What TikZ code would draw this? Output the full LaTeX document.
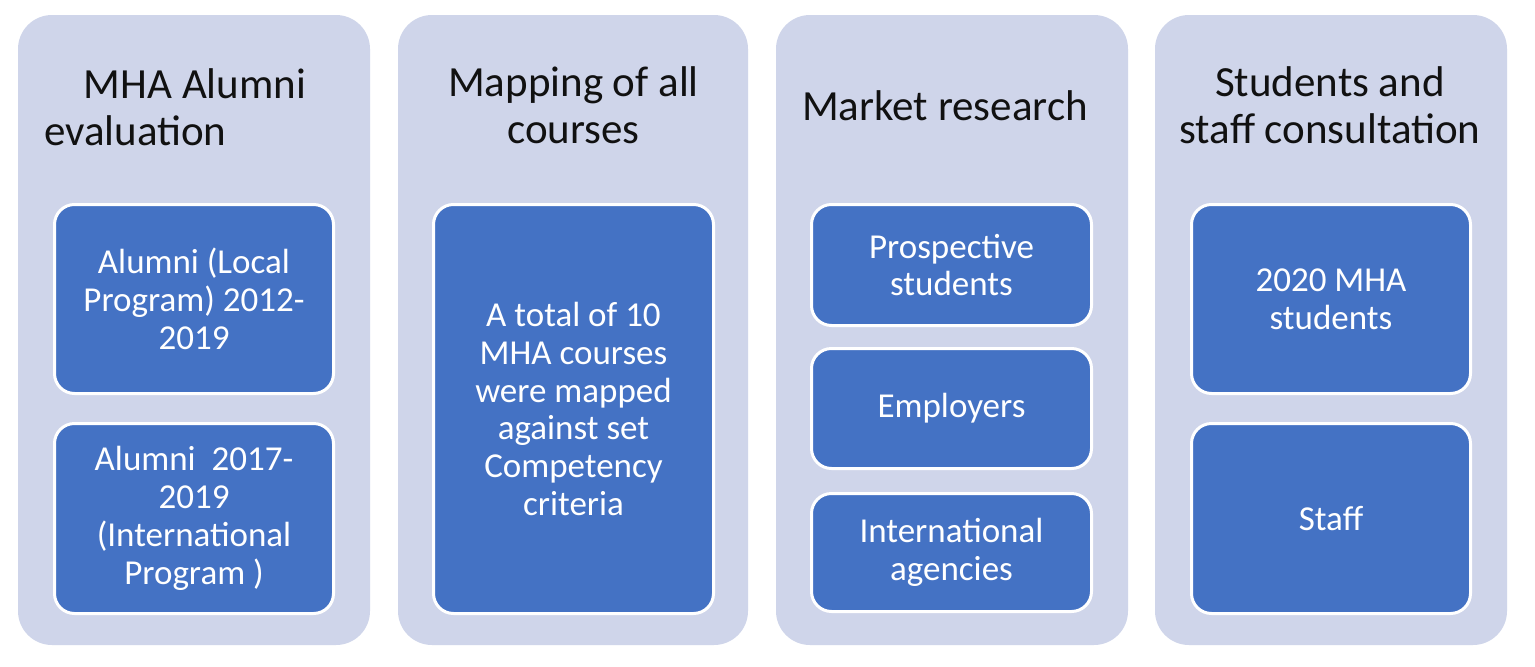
\documentclass[tikz,border=0pt]{standalone}
\usepackage{fontspec}
\setmainfont{Carlito}
\definecolor{lav}{HTML}{CFD5EA}
\definecolor{blu}{HTML}{4472C4}
\definecolor{ink}{HTML}{111111}
\tikzset{
  outerbox/.style={fill=lav, draw=none, rounded corners=34pt, inner sep=0pt},
  innerbox/.style={fill=blu, draw=white, line width=3pt, rounded corners=20pt, inner sep=0pt,
    text=white, font=\fontsize{35}{37.8}\selectfont, align=center},
  ttl/.style={font=\fontsize{43}{46.5}\selectfont, align=center, text=ink, inner sep=0pt, anchor=base}
}
\begin{document}
\begin{tikzpicture}[x=1pt,y=-1pt]
\useasboundingbox[fill=white] (0,0) rectangle (1535,667);
% outer columns
\node[outerbox, minimum width=352pt, minimum height=630pt] (c1) at (194,330) {};
\node[outerbox, minimum width=350pt, minimum height=630pt] (c2) at (573,330) {};
\node[outerbox, minimum width=352pt, minimum height=630pt] (c3) at (952,330) {};
\node[outerbox, minimum width=352pt, minimum height=630pt] (c4) at (1331,330) {};
% titles
\node[ttl] (t1) at (195,145) {MHA Alumni\\\makebox[302pt][l]{evaluation}};
\node[ttl] (t2) at (573.5,143) {Mapping of all\\courses};
\node[ttl] (t3) at (945,120) {Market research};
\node[ttl] (t4) at (1330,143) {Students and\\staff consultation};
% inner boxes
\node[innerbox, minimum width=279pt, minimum height=189pt] (a1) at (194,299) {Alumni (Local\\Program) 2012-\\2019};
\node[innerbox, minimum width=279pt, minimum height=190pt] (a2) at (194,518.5) {Alumni\ \ 2017-\\2019\\(International\\Program )};
\node[innerbox, minimum width=280pt, minimum height=409pt] (b1) at (573.5,409) {A total of 10\\MHA courses\\were mapped\\against set\\Competency\\criteria};
\node[innerbox, minimum width=280pt, minimum height=121pt] (m1) at (951.5,265) {Prospective\\students};
\node[innerbox, minimum width=280pt, minimum height=120pt] (m2) at (951.5,408.5) {Employers};
\node[innerbox, minimum width=280pt, minimum height=118pt] (m3) at (951.5,552.5) {International\\agencies};
\node[innerbox, minimum width=279pt, minimum height=189pt] (s1) at (1331,299) {2020 MHA\\students};
\node[innerbox, minimum width=279pt, minimum height=190pt] (s2) at (1331,518.5) {Staff};
\end{tikzpicture}
\end{document}
